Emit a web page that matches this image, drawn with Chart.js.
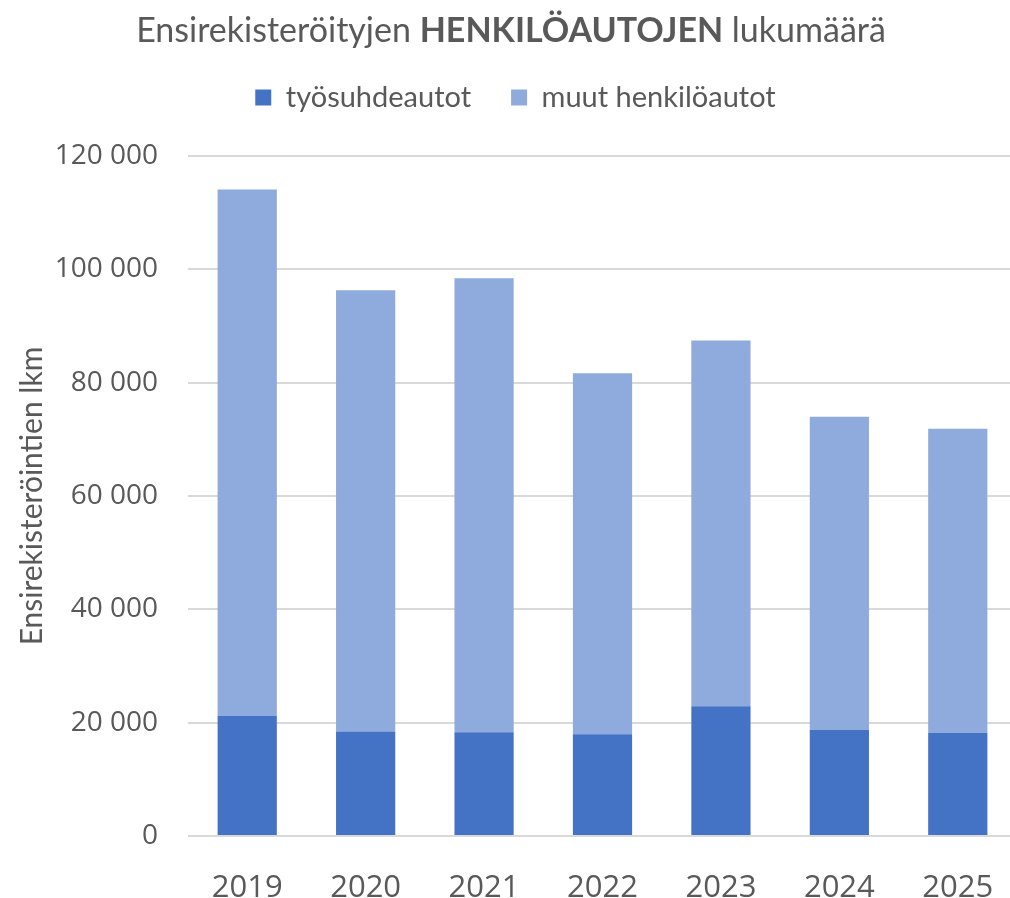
<!DOCTYPE html>
<html>
<head>
<meta charset="utf-8">
<script src="https://cdn.jsdelivr.net/npm/chart.js@4/dist/chart.umd.min.js"></script>
<style>
  html, body { margin: 0; padding: 0; background: #fff; overflow: hidden; }
  #wrap { position: relative; width: 1010px; height: 898px; overflow: hidden; }
  #title {
    position: absolute; left: 0; top: 8px; width: 1022px; text-align: center;
    font-family: Lato, sans-serif; font-size: 34px; color: #595959;
  }
  #title b { font-weight: bold; }
</style>
</head>
<body>
<div id="wrap">
  <div id="title">Ensirekisteröityjen <b>HENKILÖAUTOJEN</b> lukumäärä</div>
  <canvas id="myChart" width="1020" height="898"></canvas>
</div>
<script>
'use strict';

var years = ['2019', '2020', '2021', '2022', '2023', '2024', '2025'];
var tyosuhde = [21240, 18420, 18310, 17960, 22900, 18770, 18240];
var muut = [92860, 77880, 80120, 63680, 64520, 55210, 53620];
var yTicks = [0, 20000, 40000, 60000, 80000, 100000, 120000];

function fmt(v) {
    return v.toString().replace(/\B(?=(\d{3})+(?!\d))/g, ' ');
}

// make room below the legend without moving its text
var legendGap = {
    id: 'legendGap',
    beforeInit: function(chart) {
        var fit = chart.legend.fit;
        chart.legend.fit = function() {
            fit.bind(chart.legend)();
            this.height += 34;
        };
    }
};

var ctx = document.getElementById('myChart');
var myChart = new Chart(ctx, {
    type: 'bar',
    data: {
        labels: years,
        datasets: [{
            label: 'työsuhdeautot',
            data: tyosuhde,
            backgroundColor: '#4472C4',
            categoryPercentage: 1,
            barPercentage: 0.5
        }, {
            label: 'muut henkilöautot',
            data: muut,
            backgroundColor: '#8FAADC',
            categoryPercentage: 1,
            barPercentage: 0.5
        }]
    },
    plugins: [legendGap],
    options: {
        responsive: false,
        animation: false,
        layout: { padding: { top: 43, right: 3, left: 14, bottom: 0 } },
        plugins: {
            title: { display: false },
            tooltip: { enabled: false },
            legend: {
                display: true,
                position: 'top',
                labels: {
                    color: '#595959',
                    font: { family: 'Lato', size: 29 },
                    boxWidth: 16,
                    boxHeight: 16,
                    padding: 40
                }
            }
        },
        scales: {
            x: {
                stacked: true,
                grid: { display: false },
                border: { display: false },
                afterFit: function(scale) { scale.height = 62; },
                ticks: {
                    color: '#595959',
                    font: { family: 'Open Sans', size: 31 },
                    padding: 26
                }
            },
            y: {
                stacked: true,
                min: 0,
                max: 120000,
                afterBuildTicks: function(scale) {
                    scale.ticks = yTicks.map(function(v) { return { value: v }; });
                },
                afterFit: function(scale) { scale.width = 174; },
                grid: { color: '#D9D9D9', lineWidth: 2, drawTicks: false },
                border: { display: false },
                title: {
                    display: true,
                    text: 'Ensirekisteröintien lkm',
                    color: '#595959',
                    font: { family: 'Lato', size: 30 },
                    padding: 0
                },
                ticks: {
                    color: '#595959',
                    font: { family: 'Open Sans', size: 28 },
                    padding: 30,
                    callback: function(v) { return fmt(v); }
                }
            }
        }
    }
});
</script>
</body>
</html>
